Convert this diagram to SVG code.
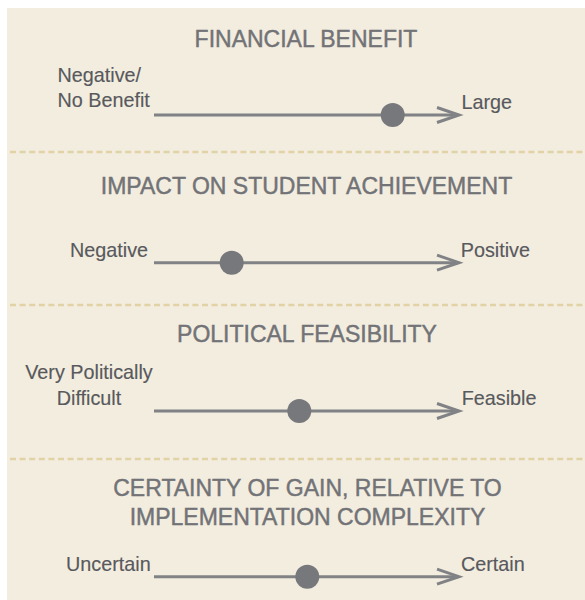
<svg xmlns="http://www.w3.org/2000/svg" width="585" height="600" viewBox="0 0 585 600">
  <defs>
    <style>
      .title { font-family: "Liberation Sans", Arial, sans-serif; font-size: 23px; fill: #727377; stroke: #727377; stroke-width: 0.45px; text-anchor: middle; }
      .lbl { font-family: "Liberation Sans", Arial, sans-serif; font-size: 19.8px; fill: #58595d; stroke: #58595d; stroke-width: 0.15px; }
      .axis { stroke: #808285; stroke-width: 3; fill: none; }
      .chev { stroke: #808285; stroke-width: 3; fill: none; stroke-linejoin: miter; }
      .dot { fill: #77787b; }
      .sep { stroke: #e2d3a6; stroke-width: 2.5; stroke-dasharray: 6 3.6; fill: none; }
    </style>
  </defs>
  <rect x="7" y="8" width="578" height="592" fill="#f3eddf"/>

  <g id="separators">
    <line class="sep" x1="10" y1="152" x2="585" y2="152"/>
    <line class="sep" x1="10" y1="305" x2="585" y2="305"/>
    <line class="sep" x1="10" y1="459" x2="585" y2="459"/>
  </g>

  <g id="connectors">
    <line class="axis" x1="154" y1="115" x2="458" y2="115"/>
    <polyline class="chev" points="437,107.5 459,115 437,122.5"/>
    <line class="axis" x1="154" y1="262.7" x2="458" y2="262.7"/>
    <polyline class="chev" points="437,255.2 459,262.7 437,270.2"/>
    <line class="axis" x1="154" y1="411" x2="458" y2="411"/>
    <polyline class="chev" points="437,403.5 459,411 437,418.5"/>
    <line class="axis" x1="154" y1="576.7" x2="458" y2="576.7"/>
    <polyline class="chev" points="437,569.2 459,576.7 437,584.2"/>
  </g>

  <g id="financial-benefit">
    <text class="title" x="306" y="46.5">FINANCIAL BENEFIT</text>
    <text class="lbl" x="57.5" y="82">Negative/</text>
    <text class="lbl" x="57.5" y="107">No Benefit</text>
    <text class="lbl" x="461.5" y="108.5">Large</text>
    <circle class="dot" cx="392.7" cy="115" r="12"/>
  </g>

  <g id="student-achievement">
    <text class="title" x="306.5" y="194.3">IMPACT ON STUDENT ACHIEVEMENT</text>
    <text class="lbl" x="70" y="256.7">Negative</text>
    <text class="lbl" x="460.7" y="256.7">Positive</text>
    <circle class="dot" cx="231.7" cy="262.7" r="12"/>
  </g>

  <g id="political-feasibility">
    <text class="title" x="307" y="342.3">POLITICAL FEASIBILITY</text>
    <text class="lbl" x="89" y="379" text-anchor="middle">Very Politically</text>
    <text class="lbl" x="89" y="405" text-anchor="middle">Difficult</text>
    <text class="lbl" x="461.7" y="405">Feasible</text>
    <circle class="dot" cx="299.3" cy="411" r="12"/>
  </g>

  <g id="certainty-of-gain">
    <text class="title" x="307.5" y="495.7">CERTAINTY OF GAIN, RELATIVE TO</text>
    <text class="title" x="307.5" y="525">IMPLEMENTATION COMPLEXITY</text>
    <text class="lbl" x="66" y="571">Uncertain</text>
    <text class="lbl" x="461" y="571">Certain</text>
    <circle class="dot" cx="307.3" cy="576.7" r="12"/>
  </g>
</svg>
